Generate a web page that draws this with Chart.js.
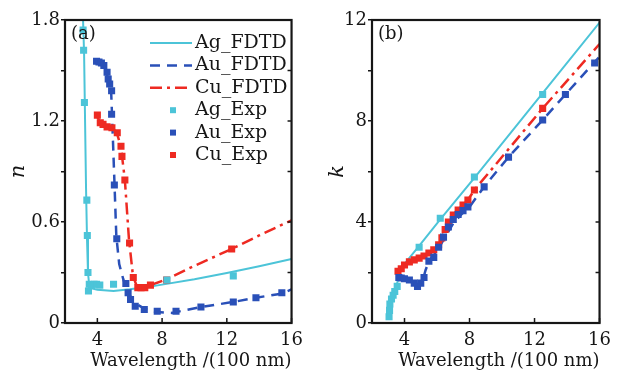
<!DOCTYPE html>
<html>
<head>
<meta charset="UTF-8">
<title>n and k of Ag, Au, Cu</title>
<script src="https://cdn.jsdelivr.net/npm/chart.js"></script>
<style>
  body { margin: 0; background: #fff; }
  #wrap { position: relative; width: 618px; height: 372px; }
  canvas { position: absolute; top: 0; }
  #ca { left: 0; }
  #cb { left: 310px; }
</style>
</head>
<body>
<div id="wrap">
  <canvas id="ca" width="310" height="372"></canvas>
  <canvas id="cb" width="308" height="372"></canvas>
</div>
<script>
// wavelength in units of 100 nm, [x, value]
// panel (a): refractive index n
const agFdtdN = [[3.1,1.85],[3.18,1.6],[3.24,1.2],[3.3,0.8],[3.36,0.5],[3.42,0.3],[3.5,0.22],[3.7,0.205],[4,0.198],[5,0.19],[6,0.2],[7,0.213],[8,0.228],[10,0.26],[12,0.297],[14,0.337],[16,0.38]];
const auFdtdN = [[3.9,1.555],[4.35,1.53],[4.65,1.46],[4.85,1.38],[4.92,1.2],[5.05,0.85],[5.17,0.52],[5.35,0.35],[5.6,0.26],[5.9,0.18],[6.3,0.12],[6.9,0.085],[7.7,0.065],[8.6,0.06],[10.4,0.095],[12.4,0.125],[13.8,0.15],[15.4,0.175],[16,0.2]];
const cuFdtdN = [[3.9,1.24],[4.2,1.19],[4.6,1.165],[4.9,1.16],[5.2,1.13],[5.45,1.05],[5.55,0.97],[5.7,0.85],[5.95,0.5],[6.2,0.28],[6.45,0.215],[7,0.21],[7.3,0.225],[8.3,0.26],[10,0.34],[12.3,0.44],[14,0.52],[16,0.61]];
const agExpN = [[3.12,1.74],[3.15,1.62],[3.2,1.31],[3.35,0.73],[3.38,0.52],[3.42,0.3],[3.45,0.19],[3.5,0.23],[3.62,0.225],[3.8,0.23],[3.95,0.23],[4.15,0.225],[5.0,0.23],[8.3,0.255],[12.4,0.28]];
const auExpN = [[3.95,1.555],[4.1,1.55],[4.25,1.545],[4.4,1.53],[4.6,1.49],[4.67,1.45],[4.76,1.42],[4.88,1.38],[4.88,1.24],[5.05,0.82],[5.2,0.5],[5.76,0.235],[5.9,0.18],[6.05,0.14],[6.34,0.1],[6.9,0.08],[7.7,0.07],[8.86,0.07],[10.4,0.095],[12.4,0.125],[13.8,0.15],[15.4,0.18]];
const cuExpN = [[4.0,1.235],[4.18,1.19],[4.35,1.18],[4.6,1.165],[4.9,1.16],[5.23,1.13],[5.46,1.05],[5.52,0.99],[5.7,0.85],[5.99,0.475],[6.22,0.27],[6.5,0.21],[6.7,0.21],[6.93,0.21],[7.28,0.225],[8.28,0.255],[12.3,0.44]];

// panel (b): extinction coefficient k
const agFdtdK = [[3.5,1.4],[3.7,2.1],[4.9,3.05],[6.2,4.1],[8.3,5.75],[12.5,9.1],[16,11.9]];
const auFdtdK = [[3.6,1.8],[4.3,1.7],[4.8,1.45],[5.1,1.65],[5.3,2.1],[5.5,2.45],[6,2.85],[6.5,3.4],[7,3.95],[7.5,4.3],[8,4.6],[8.9,5.4],[10.4,6.57],[12.5,8.04],[13.9,9.05],[16,10.55]];
const cuFdtdK = [[3.6,2.0],[4.0,2.3],[4.6,2.5],[5.2,2.65],[5.8,2.9],[6.1,3.1],[6.5,3.7],[7.0,4.28],[7.9,4.87],[8.3,5.27],[12.5,8.5],[16,11.05]];
const agExpK = [[3.05,0.25],[3.08,0.5],[3.1,0.75],[3.2,0.95],[3.3,1.1],[3.4,1.25],[3.55,1.45],[4.9,3.0],[6.2,4.15],[8.3,5.78],[12.5,9.05]];
const auExpK = [[3.65,1.8],[3.8,1.78],[4.0,1.75],[4.3,1.7],[4.6,1.58],[4.8,1.45],[5.0,1.58],[5.2,1.8],[5.5,2.45],[5.8,2.6],[6.1,3.0],[6.4,3.4],[6.7,3.8],[7.0,4.1],[7.3,4.3],[7.6,4.45],[7.9,4.6],[8.9,5.39],[10.4,6.57],[12.5,8.04],[13.9,9.05],[15.7,10.3]];
const cuExpK = [[3.6,2.05],[3.8,2.15],[4.0,2.3],[4.3,2.42],[4.6,2.5],[4.9,2.57],[5.2,2.65],[5.5,2.77],[5.8,2.9],[6.1,3.1],[6.3,3.37],[6.5,3.7],[6.7,4.0],[7.0,4.28],[7.3,4.47],[7.6,4.67],[7.9,4.87],[8.3,5.27],[12.5,8.5]];

const seriesNames = ['Ag_FDTD', 'Au_FDTD', 'Cu_FDTD', 'Ag_Exp', 'Au_Exp', 'Cu_Exp'];
const xTicks = [4, 8, 12, 16];
const yTicksA = [0, 0.3, 0.6, 0.9, 1.2, 1.5, 1.8];
const yLabelsA = { 0: '0', 0.6: '0.6', 1.2: '1.2', 1.8: '1.8' };
const yTicksB = [0, 2, 4, 6, 8, 10, 12];
const yLabelsB = { 0: '0', 4: '4', 8: '8', 12: '12' };

const CYAN = '#4cc4d8', BLUE = '#2a50b8', RED = '#ee2a22', INK = '#161616';
const SERIF = "'DejaVu Serif', serif";
Chart.defaults.font.family = SERIF;
Chart.defaults.font.size = 18;
Chart.defaults.color = INK;

const toPts = arr => arr.map(p => ({ x: p[0], y: p[1] }));

function lineSet(label, data, color, dash, width) {
  return { label, data: toPts(data), showLine: true, borderColor: color, backgroundColor: color,
    borderWidth: width, borderDash: dash, pointRadius: 0, order: 1 };
}
function pointSet(label, data, color) {
  return { label, data: toPts(data), showLine: false, pointStyle: 'rect', pointRadius: 5,
    pointBackgroundColor: color, pointBorderWidth: 0, backgroundColor: color, borderColor: color, order: 0 };
}

// frame, inward ticks, panel tag and the in-plot legend
const framePlugin = {
  id: 'frame',
  afterDraw(chart, args, opts) {
    const { ctx, chartArea: a, scales } = chart;
    ctx.save();
    ctx.strokeStyle = INK;
    ctx.lineWidth = 1.5;
    scales.x.ticks.forEach(t => {
      const px = scales.x.getPixelForValue(t.value);
      ctx.beginPath(); ctx.moveTo(px, a.bottom); ctx.lineTo(px, a.bottom - 5); ctx.stroke();
    });
    scales.y.ticks.forEach(t => {
      const py = scales.y.getPixelForValue(t.value);
      ctx.beginPath(); ctx.moveTo(a.right, py); ctx.lineTo(a.right - 4, py); ctx.stroke();
    });
    ctx.lineWidth = 2.2;
    ctx.strokeRect(a.left, a.top, a.right - a.left, a.bottom - a.top);
    ctx.fillStyle = INK;
    ctx.font = '18px ' + SERIF;
    ctx.textBaseline = 'middle';
    ctx.fillText(opts.tag, a.left + 6, a.top + 14);

    if (opts.legend) {
      const L = opts.legend;
      chart.data.datasets.forEach((ds, i) => {
        const y = L.top + i * L.gap;
        if (ds.showLine) {
          ctx.strokeStyle = ds.borderColor;
          ctx.lineWidth = ds.borderWidth;
          ctx.setLineDash(ds.borderDash || []);
          ctx.beginPath(); ctx.moveTo(L.x0, y); ctx.lineTo(L.x1, y); ctx.stroke();
          ctx.setLineDash([]);
        } else {
          ctx.fillStyle = ds.pointBackgroundColor;
          ctx.fillRect(L.mark - 3, y - 3, 6, 6);
        }
        ctx.fillStyle = INK;
        ctx.font = '19px ' + SERIF;
        ctx.fillText(ds.label, L.text, y);
      });
    }
    ctx.restore();
  }
};

function makeChart(id, cfg) {
  return new Chart(document.getElementById(id), {
    type: 'scatter',
    data: { datasets: cfg.datasets },
    plugins: [framePlugin],
    options: {
      responsive: false,
      animation: false,
      layout: { padding: { left: 0, right: cfg.padRight, top: 20, bottom: 0 } },
      plugins: { legend: { display: false }, tooltip: { enabled: false },
        frame: { tag: cfg.tag, legend: cfg.legend } },
      scales: {
        x: {
          type: 'linear', min: 2, max: 16,
          afterBuildTicks: s => { s.ticks = xTicks.map(v => ({ value: v })); },
          afterFit: s => { s.height = 49; },
          grid: { display: false, drawTicks: false },
          border: { display: false },
          ticks: { padding: 7, callback: v => String(v) },
          title: { display: true, text: 'Wavelength /(100 nm)', align: 'end', padding: { top: 0, bottom: 0 } }
        },
        y: {
          type: 'linear', min: 0, max: cfg.yMax,
          afterBuildTicks: s => { s.ticks = cfg.yTicks.map(v => ({ value: v })); },
          afterFit: s => { s.width = cfg.axisWidth; },
          grid: { drawOnChartArea: false, drawTicks: true, tickLength: 4, color: INK, lineWidth: 1.5 },
          border: { display: false },
          ticks: { padding: 1, callback: v => (cfg.yLabels[v] !== undefined ? cfg.yLabels[v] : '') },
          title: { display: true, text: cfg.yTitle, font: { size: 21, style: 'italic' },
            padding: { top: cfg.titlePad, bottom: 0 } }
        }
      }
    }
  });
}

makeChart('ca', {
  tag: '(a)', yTitle: 'n', yMax: 1.8, yTicks: yTicksA, yLabels: yLabelsA,
  axisWidth: 65, padRight: 10, titlePad: 6,
  legend: { top: 43, gap: 22.4, x0: 150, x1: 192, mark: 173, text: 195 },
  datasets: [
    lineSet(seriesNames[0], agFdtdN, CYAN, [], 2),
    lineSet(seriesNames[1], auFdtdN, BLUE, [10, 7], 2.5),
    lineSet(seriesNames[2], cuFdtdN, RED, [12, 5, 3, 5], 2.5),
    pointSet(seriesNames[3], agExpN, CYAN),
    pointSet(seriesNames[4], auExpN, BLUE),
    pointSet(seriesNames[5], cuExpN, RED)
  ]
});

makeChart('cb', {
  tag: '(b)', yTitle: 'k', yMax: 12, yTicks: yTicksB, yLabels: yLabelsB,
  axisWidth: 62, padRight: 12, titlePad: 15,
  legend: null,
  datasets: [
    lineSet(seriesNames[0], agFdtdK, CYAN, [], 2),
    lineSet(seriesNames[1], auFdtdK, BLUE, [10, 7], 2.5),
    lineSet(seriesNames[2], cuFdtdK, RED, [12, 5, 3, 5], 2.5),
    pointSet(seriesNames[3], agExpK, CYAN),
    pointSet(seriesNames[4], auExpK, BLUE),
    pointSet(seriesNames[5], cuExpK, RED)
  ]
});
</script>
</body>
</html>
